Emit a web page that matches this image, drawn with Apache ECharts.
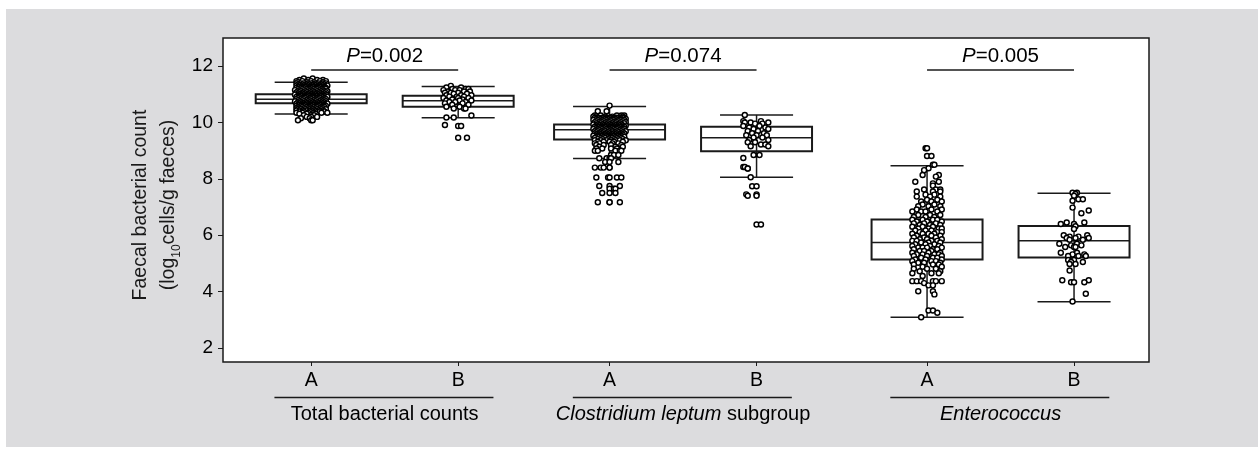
<!DOCTYPE html>
<html>
<head>
<meta charset="utf-8">
<script src="https://cdn.jsdelivr.net/npm/echarts@6/dist/echarts.min.js"></script>
<style>
  html, body { margin: 0; padding: 0; background: #fff; }
  #wrap { position: relative; width: 1258px; height: 449px; }
  #panel { position: absolute; left: 6px; top: 9px; right: 0; bottom: 2px; background: #dcdcde; }
  #chart { position: absolute; left: 0; top: 0; width: 1258px; height: 449px; }
</style>
</head>
<body>
<div id="wrap"><div id="panel"></div><div id="chart"></div></div>
<script>
// x positions of the six boxes (gap between groups is a bit wider)
const categories = ['A', 'B', 'A', 'B', 'A', 'B'];
const positions = [1, 2, 3.03, 4.03, 5.19, 6.19];
const groupNames = ['Total bacterial counts', '{i|Clostridium leptum} subgroup', '{i|Enterococcus}'];
const pValues = ['0.002', '0.074', '0.005'];
const yTicks = [2, 4, 6, 8, 10, 12];
// low whisker, q1, median, q3, high whisker
const boxStats = [
  [10.30, 10.68, 10.83, 11.00, 11.43],
  [10.17, 10.56, 10.77, 10.95, 11.28],
  [8.72, 9.40, 9.74, 9.93, 10.57],
  [8.06, 8.98, 9.46, 9.85, 10.27],
  [3.09, 5.14, 5.74, 6.56, 8.47],
  [3.64, 5.21, 5.80, 6.33, 7.49]
];

// jittered points: [value, [horizontal offsets in 1/100 of a slot]]
const ptsA1 = [
  [11.56, [-5, 1]], [11.51, [-8, -2, 4, 8]], [11.47, [-10, -6, 0, 6, 10]], [11.43, [-9, -3, 2, 8]],
  [11.39, [-10, -7, -5, -2, 0, 3, 5, 8, 10]], [11.35, [-9, -6, -3, -1, 2, 4, 7, 9]],
  [11.31, [-10, -8, -5, -2, 1, 3, 6, 8, 11]], [11.27, [-9, -6, -4, -1, 1, 4, 6, 9]],
  [11.23, [-10, -7, -5, -2, 0, 3, 5, 8, 10]], [11.19, [-9, -6, -3, -1, 2, 4, 7, 10]],
  [11.15, [-11, -8, -5, -2, 0, 3, 6, 8]], [11.11, [-9, -7, -4, -1, 1, 4, 7, 9, 11]],
  [11.07, [-10, -8, -5, -3, 0, 2, 5, 8, 10]], [11.03, [-9, -6, -4, -1, 2, 4, 6, 9]],
  [10.99, [-11, -8, -5, -2, 0, 3, 5, 8, 10]], [10.95, [-9, -7, -4, -1, 1, 4, 7, 9]],
  [10.91, [-10, -8, -5, -3, 0, 2, 5, 8, 11]], [10.87, [-9, -6, -4, -1, 2, 4, 6, 9]],
  [10.83, [-10, -7, -5, -2, 0, 3, 5, 8, 10]], [10.79, [-9, -6, -3, -1, 2, 4, 7, 9]],
  [10.75, [-11, -8, -5, -2, 0, 3, 6, 8, 10]], [10.71, [-9, -7, -4, -1, 1, 4, 7, 9]],
  [10.67, [-10, -8, -5, -3, 0, 2, 5, 8, 11]], [10.63, [-9, -6, -4, -1, 2, 4, 6, 9]],
  [10.59, [-10, -7, -5, -2, 0, 3, 5, 8, 10]], [10.55, [-9, -6, -3, -1, 2, 4, 7, 9]],
  [10.51, [-10, -8, -5, -2, 0, 3, 6, 8]], [10.47, [-9, -7, -4, -1, 1, 4, 7, 10]],
  [10.43, [-10, -6, -3, 0, 2, 5, 8]], [10.39, [-8, -5, -1, 3, 6, 9]],
  [10.35, [-10, -6, -2, 2, 7, 11]], [10.31, [-8, -3, 3]], [10.26, [-5, 0, 2]],
  [10.20, [-3, 0, 4]], [10.15, [-7, -1]], [10.08, [-9, 0, 1]]
];
const ptsB1 = [
  [11.30, [-5]], [11.24, [-8, 2]], [11.19, [-4, 5, 7]], [11.15, [-10, -2, 1]], [11.10, [-7, 4, 8]],
  [11.06, [-9, -5, 0]], [11.02, [-3, 6]], [10.97, [-8, 2, 9]], [10.92, [-6, -1, 4]],
  [10.87, [-10, 0, 7]], [10.82, [-4, 3]], [10.78, [-8, 1, 9]], [10.73, [-6, -2, 5]],
  [10.68, [-9, 3]], [10.63, [-4, 7]], [10.56, [-8, 1]], [10.50, [-3, 4, 5]], [10.25, [9]],
  [10.18, [-8, -3]], [9.91, [-9]], [9.88, [0, 2]], [9.46, [0, 6]]
];
const ptsA2 = [
  [10.60, [0]], [10.40, [-8, -2]], [10.25, [-10, -6, 5, 8, 10]], [10.21, [-11, -3, 2, 9]],
  [10.17, [-10, -8, -5, -2, 0, 3, 5, 8, 10]], [10.13, [-9, -6, -3, -1, 2, 4, 7, 11]],
  [10.09, [-11, -8, -5, -2, 1, 3, 6, 8, 10]], [10.05, [-9, -6, -4, -1, 1, 4, 6, 9]],
  [10.01, [-10, -7, -5, -2, 0, 3, 5, 8, 11]], [9.97, [-9, -6, -3, -1, 2, 4, 7, 10]],
  [9.93, [-11, -8, -5, -2, 0, 3, 6, 8]], [9.89, [-9, -7, -4, -1, 1, 4, 7, 9, 11]],
  [9.85, [-10, -8, -5, -3, 0, 2, 5, 8, 10]], [9.81, [-9, -6, -4, -1, 2, 4, 6, 9]],
  [9.77, [-11, -8, -5, -2, 0, 3, 5, 8, 10]], [9.73, [-9, -7, -4, -1, 1, 4, 7, 9]],
  [9.69, [-10, -8, -5, -3, 0, 2, 5, 8, 11]], [9.65, [-9, -6, -4, -1, 2, 4, 6, 9]],
  [9.61, [-10, -7, -5, -2, 0, 3, 5, 8, 10]], [9.57, [-9, -6, -3, -1, 2, 4, 7, 9]],
  [9.53, [-11, -8, -5, -2, 0, 3, 6, 8]], [9.49, [-9, -7, -4, -1, 1, 4, 7, 10]],
  [9.45, [-10, -6, -3, 0, 2, 5, 8]], [9.41, [-8, -5, -1, 3, 6, 9]],
  [9.37, [-10, -6, -2, 1, 4, 7, 11]], [9.32, [-8, -4, 0, 3, 9]],
  [9.26, [-10, -7, 2, 6]], [9.20, [-9, -4, 1, 8]], [9.14, [-7, 4, 9]], [9.08, [-9, -5, 1, 5]],
  [9.00, [-10, -8, 4, 7, 8]], [8.85, [1, 3, 6]], [8.73, [-7, -2, 0, 1]], [8.60, [-3, 0, 6]],
  [8.40, [-10, -6, -4, 0, 0]], [8.05, [-9, -1, 0, 5, 8]], [7.75, [-7, 0, 7]],
  [7.65, [0, 3, 4]], [7.50, [-5, 0, 4]], [7.17, [-8, 0, 0, 7]]
];
const ptsB2 = [
  [10.27, [-8]], [10.05, [-9, 3]], [10.00, [-8, -4, 8]], [9.96, [-1, 4]], [9.88, [-9, 2]],
  [9.82, [-5, 6]], [9.77, [-2, 8]], [9.70, [-6, 1]], [9.62, [-3, 5]], [9.55, [-7, 0, 7]],
  [9.47, [-2, 4]], [9.38, [-5, 8]], [9.30, [-6, -1]], [9.22, [3, 6]], [9.16, [-4, 8]],
  [8.85, [-2, 2]], [8.74, [-9]], [8.42, [-9, -8]], [8.37, [-6, -6]], [8.06, [-4]],
  [7.74, [-3, 0]], [7.45, [-7, 0]], [7.40, [-6, 0]], [6.38, [0, 3]]
];
const ptsA3 = [
  [9.09, [-1, 0]], [8.81, [0, 3]], [8.50, [4, 5]], [8.38, [1]], [8.31, [-2]], [8.14, [-3, 8]],
  [8.08, [6]], [7.90, [-8, 8]], [7.84, [4]], [7.76, [4]], [7.62, [-2, 6, 9]], [7.55, [-7, 4, 9]],
  [7.44, [-1, 5]], [7.37, [-7, 2, 9]], [7.26, [0, 7]], [7.20, [-4, 3, 10]], [7.09, [-3, 5]],
  [7.03, [-6, 1, 9]], [6.91, [-7, 3, 10]], [6.84, [-10, -4, -1, 7]], [6.72, [-6, 2, 9]],
  [6.65, [-9, -1, 5]], [6.55, [-10, -3, 4, 7]], [6.49, [-7, 0, 10]], [6.42, [-9, -2, 6]],
  [6.36, [-5, 2, 9]], [6.30, [-10, -3, 4]], [6.24, [-6, 1, 8, 10]], [6.17, [-8, -1, 3]],
  [6.11, [-5, 7, 10]], [6.05, [-10, -3, 1, 5]], [5.98, [-7, 3, 9]], [5.92, [-9, -2, 6]],
  [5.86, [-5, 0, 10]], [5.80, [-10, -7, 3, 7]], [5.74, [-4, 1, 9]], [5.68, [-8, -1, 5]],
  [5.62, [-10, 2, 8]], [5.56, [-6, -3, 0, 10]], [5.50, [-9, 4, 7]], [5.44, [-5, -2, 3]],
  [5.38, [-10, 1, 9]], [5.32, [-7, -3, 5, 8]], [5.26, [-9, 0, 10]], [5.20, [-4, 4, 7]],
  [5.14, [-8, -1, 10]], [5.08, [-10, 3, 6]], [5.02, [-6, -2, 9]], [4.96, [-9, 4, 8]],
  [4.88, [-3, 10]], [4.81, [-9, 0, 6]], [4.72, [-5, 9]], [4.65, [-10, 3, 8]], [4.55, [-3]],
  [4.37, [-10, -7, -4, 4, 6, 10]], [4.30, [-2]], [4.22, [1, 4]], [4.01, [-6, 4]], [3.90, [5]],
  [3.33, [1, 4]], [3.25, [7]], [3.09, [-4]]
];
const ptsB3 = [
  [7.51, [-1, 2]], [7.46, [1]], [7.40, [0]], [7.28, [3, 6]], [7.22, [-1]], [6.98, [-1]],
  [6.88, [10]], [6.78, [5]], [6.45, [-5, 7]], [6.40, [0, -9]], [6.32, [1]], [6.22, [0]],
  [6.00, [-7, 9]], [5.95, [-3, 3]], [5.90, [-5, 1, 10]], [5.84, [-3, 6]], [5.70, [-10, 2]],
  [5.64, [-2, 5]], [5.58, [-6, 0, 1]], [5.38, [-9, 2]], [5.32, [-1, 7]], [5.26, [-4, 3, 8]],
  [5.12, [-4, 0]], [5.05, [-2, 6]], [4.98, [-3, 1]], [4.75, [-3]], [4.40, [-8, 10]],
  [4.33, [-2, 0, 7]], [3.92, [8]], [3.65, [-1]]
];
const pointSets = [ptsA1, ptsB1, ptsA2, ptsB2, ptsA3, ptsB3];

const FONT = "'Liberation Sans', Arial, sans-serif";
const INK = '#1a1a1a';

let points = [];
pointSets.forEach(function (rows, i) {
  rows.forEach(function (row) {
    row[1].forEach(function (dx) { points.push([positions[i] + dx / 100, row[0]]); });
  });
});

let boxData = boxStats.map(function (s, i) { return [positions[i]].concat(s); });

function renderBox(params, api) {
  let x = api.value(0);
  let lo = api.coord([x, api.value(1)]);
  let q1 = api.coord([x, api.value(2)]);
  let md = api.coord([x, api.value(3)]);
  let q3 = api.coord([x, api.value(4)]);
  let hi = api.coord([x, api.value(5)]);
  let hb = api.size([0.755, 0])[0] / 2;
  let hc = api.size([0.497, 0])[0] / 2;
  let thin = { stroke: INK, lineWidth: 1.5, fill: null };
  return {
    type: 'group',
    children: [
      { type: 'line', shape: { x1: lo[0], y1: lo[1], x2: hi[0], y2: hi[1] }, style: thin },
      { type: 'line', shape: { x1: lo[0] - hc, y1: lo[1], x2: lo[0] + hc, y2: lo[1] }, style: thin },
      { type: 'line', shape: { x1: hi[0] - hc, y1: hi[1], x2: hi[0] + hc, y2: hi[1] }, style: thin },
      { type: 'rect', shape: { x: q3[0] - hb, y: q3[1], width: hb * 2, height: q1[1] - q3[1] },
        style: { stroke: INK, lineWidth: 2, fill: null } },
      { type: 'line', shape: { x1: md[0] - hb, y1: md[1], x2: md[0] + hb, y2: md[1] }, style: thin }
    ]
  };
}

const pY = 11.87;
let bracketData = pValues.map(function (p, i) {
  return [{ coord: [positions[2 * i], pY] }, { coord: [positions[2 * i + 1], pY] }];
});

let chart = echarts.init(document.getElementById('chart'));
let option = {
  animation: false,
  backgroundColor: 'transparent',
  grid: { left: 223, top: 38, right: 109, bottom: 87, show: true, backgroundColor: '#fff',
    borderColor: INK, borderWidth: 1.5 },
  xAxis: {
    type: 'value', min: 0.4, max: 6.7,
    splitLine: { show: false },
    axisLine: { show: false },
    axisTick: { show: true, length: 4, customValues: positions, lineStyle: { color: INK } },
    axisLabel: {
      customValues: positions, margin: 9, color: '#000', fontFamily: FONT, fontSize: 19.5,
      formatter: function (v) {
        let i = positions.findIndex(function (p) { return Math.abs(p - v) < 1e-6; });
        return i >= 0 ? categories[i] : '';
      }
    }
  },
  yAxis: {
    type: 'value', min: 1.5, max: 13,
    splitLine: { show: false },
    axisLine: { show: false },
    axisTick: { show: true, length: 5, customValues: yTicks, lineStyle: { color: INK } },
    axisLabel: { customValues: yTicks, margin: 10, color: '#000', fontFamily: FONT, fontSize: 19 }
  },
  series: [
    {
      type: 'custom', renderItem: renderBox, data: boxData, z: 2,
      encode: { x: 0, y: [1, 2, 3, 4, 5] }
    },
    {
      type: 'scatter', data: points, z: 3, symbol: 'circle', symbolSize: 5,
      itemStyle: { color: '#fff', borderColor: '#000', borderWidth: 1.45, opacity: 1 },
      markLine: {
        silent: true, symbol: 'none',
        lineStyle: { color: INK, width: 1.5, type: 'solid' },
        label: {
          position: 'middle', distance: 3, color: '#000', fontFamily: FONT, fontSize: 20.5,
          formatter: function (p) { return '{i|P}=' + pValues[p.dataIndex]; },
          rich: { i: { fontStyle: 'italic', fontFamily: FONT, fontSize: 20.5, color: '#000' } }
        },
        data: bracketData
      }
    }
  ]
};
chart.setOption(option);

// group underlines and names below the axis, placed from the x scale
let graphics = [];
for (let g = 0; g < 3; g++) {
  let x1 = chart.convertToPixel({ xAxisIndex: 0 }, positions[2 * g] - 0.25);
  let x2 = chart.convertToPixel({ xAxisIndex: 0 }, positions[2 * g + 1] + 0.24);
  let xm = chart.convertToPixel({ xAxisIndex: 0 }, (positions[2 * g] + positions[2 * g + 1]) / 2);
  graphics.push({ type: 'line', shape: { x1: x1, y1: 397.5, x2: x2, y2: 397.5 },
    style: { stroke: INK, lineWidth: 1.5 } });
  graphics.push({ type: 'text', x: xm, y: 414,
    style: { text: groupNames[g], fill: '#000', font: '20px ' + FONT, align: 'center', verticalAlign: 'middle',
      rich: { i: { fontStyle: 'italic', fontFamily: FONT, fontSize: 20, fill: '#000' } } } });
}
graphics.push({
  type: 'text', x: 155, y: 205, rotation: Math.PI / 2,
  style: {
    text: 'Faecal bacterial count\n(log{s|10}cells/g faeces)',
    fill: '#1a1a1a', font: '19.5px ' + FONT, align: 'center', verticalAlign: 'middle', lineHeight: 28,
    rich: { s: { fontFamily: FONT, fontSize: 12, verticalAlign: 'bottom', lineHeight: 12, fill: '#1a1a1a' } }
  }
});
chart.setOption({ graphic: graphics });
</script>
</body>
</html>
